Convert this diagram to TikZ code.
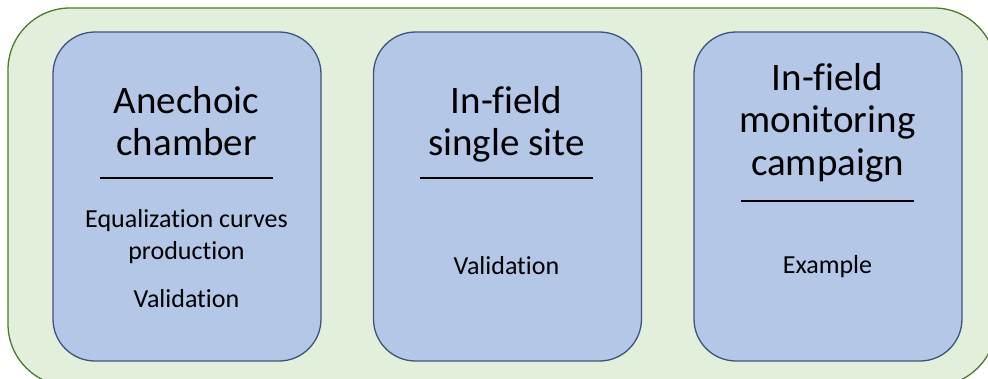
\documentclass[tikz,border=0pt]{standalone}
\usepackage{fontspec}
\setmainfont{Carlito}[Ligatures={NoCommon}]
\definecolor{outerfill}{HTML}{E2EFDA}
\definecolor{outerline}{HTML}{4F7A2E}
\definecolor{innerfill}{HTML}{B4C7E7}
\definecolor{innerline}{HTML}{3E5382}
\begin{document}
\begin{tikzpicture}[x=1pt,y=-1pt,
  outerbox/.style={draw=outerline,fill=outerfill,line width=1.3pt,rounded corners=62pt},
  stagebox/.style={draw=innerline,fill=innerfill,line width=1.3pt,rounded corners=42pt,
    minimum width=268pt,minimum height=329pt,inner sep=0pt},
  titletext/.style={anchor=base,inner sep=0pt,font=\fontsize{39}{42}\selectfont},
  bodytext/.style={anchor=base,inner sep=0pt,font=\fontsize{26}{32}\selectfont},
  rule/.style={line width=2.6pt,black}]
\useasboundingbox (0,0) rectangle (988,378);
\clip (0,0) rectangle (988,378);
\draw[outerbox] (8,8) rectangle (996,386);
% boxes
\node[stagebox] (b1) at (187,196.5) {};
\node[stagebox] (b2) at (507.5,196.5) {};
\node[stagebox] (b3) at (828,196.5) {};
% box 1
\node[titletext] (t1a) at (186.5,113) {Anechoic};
\node[titletext] (t1b) at (186.5,155) {chamber};
\draw[rule] (100,178) -- (273,178);
\node[bodytext] (d1a) at (186.5,227) {Equalization curves};
\node[bodytext] (d1b) at (186.5,259) {production};
\node[bodytext] (d1c) at (186.5,307) {Validation};
% box 2
\node[titletext] (t2a) at (506.5,113) {In-field};
\node[titletext] (t2b) at (506.5,155) {single site};
\draw[rule] (420,178) -- (593,178);
\node[bodytext] (d2a) at (506.5,274) {Validation};
% box 3
\node[titletext] (t3a) at (827.5,90) {In-field};
\node[titletext] (t3b) at (827.5,132) {monitoring};
\node[titletext] (t3c) at (827.5,175) {campaign};
\draw[rule] (741,201) -- (914,201);
\node[bodytext] (d3a) at (827.5,273) {Example};
\end{tikzpicture}
\end{document}
